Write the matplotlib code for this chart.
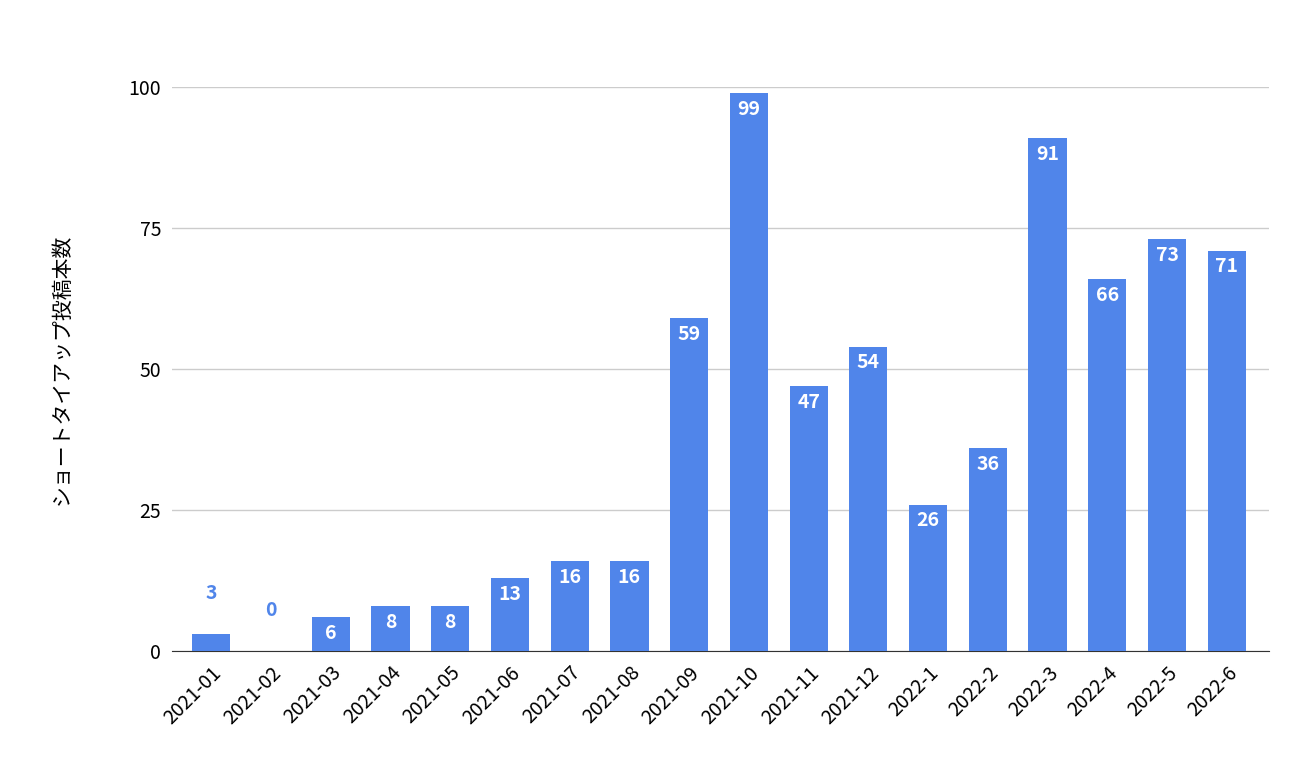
import matplotlib
matplotlib.use('Agg')
import matplotlib.pyplot as plt

plt.rcParams['font.family'] = ['Noto Sans CJK JP', 'DejaVu Sans']

months = ["2021-01", "2021-02", "2021-03", "2021-04", "2021-05", "2021-06",
          "2021-07", "2021-08", "2021-09", "2021-10", "2021-11", "2021-12",
          "2022-1", "2022-2", "2022-3", "2022-4", "2022-5", "2022-6"]
counts = [3, 0, 6, 8, 8, 13, 16, 16, 59, 99, 47, 54, 26, 36, 91, 66, 73, 71]
yticks = [0, 25, 50, 75, 100]

BLUE = "#5085EA"

fig = plt.figure(figsize=(13.16, 7.78), dpi=100)
ax = fig.add_axes([0.131, 0.163, 0.833, 0.725])
x = range(len(months))
ax.bar(x, counts, width=0.64, color=BLUE, zorder=3)

for i, v in enumerate(counts):
    if v >= 5:
        ax.text(i, v - 1.2, str(v), ha='center', va='top', color='white',
                fontsize=14, fontweight='bold', zorder=4)
    else:
        ax.text(i, v + 5.5, str(v), ha='center', va='bottom', color=BLUE,
                fontsize=14, fontweight='bold', zorder=4)

ax.set_xlim(-0.65, len(months) - 0.3)
ax.set_ylim(0, 100)
ax.set_yticks(yticks)
ax.set_yticklabels([str(t) for t in yticks], fontsize=14)
ax.set_xticks(list(x))
ax.set_xticklabels(months, rotation=45, ha='right', rotation_mode='anchor', fontsize=14)
ax.tick_params(length=0, pad=8)
ax.grid(axis='y', color='#CCCCCC', linewidth=1, zorder=0)
for s in ['top', 'right', 'left']:
    ax.spines[s].set_visible(False)
ax.spines['bottom'].set_color('#333333')
ax.set_ylabel("ショートタイアップ投稿本数", fontsize=15, labelpad=40)

fig.savefig("out.png", dpi=100, facecolor='white')
